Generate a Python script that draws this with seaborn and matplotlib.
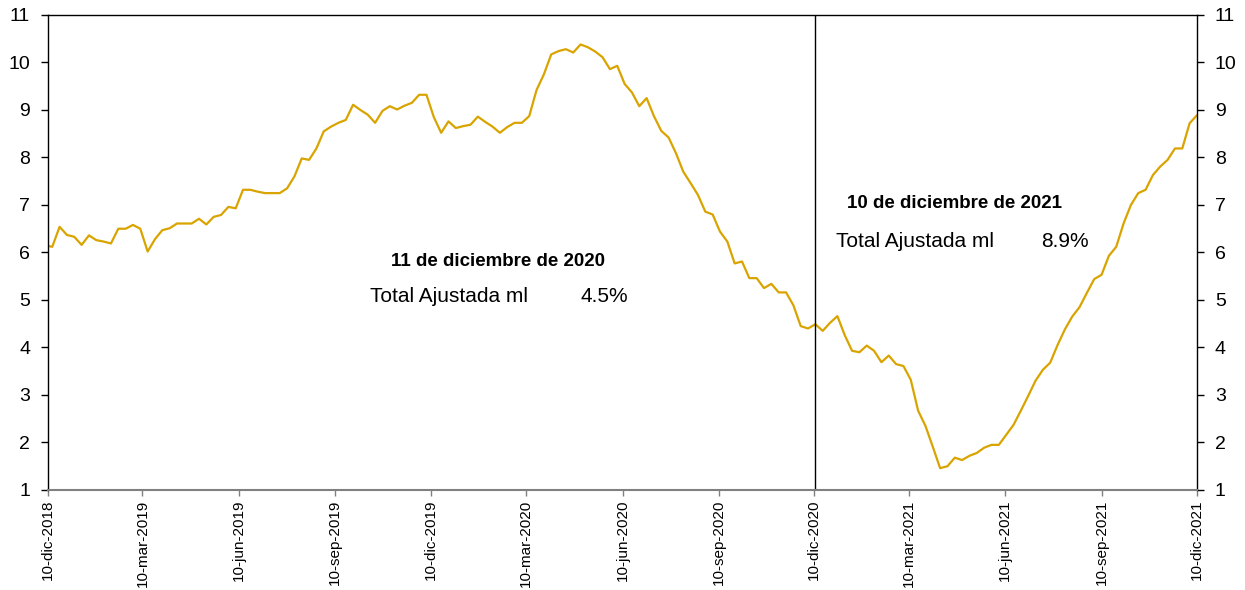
import matplotlib
matplotlib.use("Agg")
import matplotlib.pyplot as plt
import pandas as pd
import seaborn as sns

# weekly values (Fridays), first one falls just before the axis start
start_date = "2018-12-07"
values = [6.15,
          6.12, 6.54, 6.37, 6.33, 6.16, 6.36, 6.26, 6.23, 6.19, 6.50,
          6.50, 6.58, 6.50, 6.02, 6.28, 6.47, 6.51, 6.61, 6.61, 6.61,
          6.71, 6.59, 6.75, 6.79, 6.96, 6.93, 7.32, 7.32, 7.28, 7.25,
          7.25, 7.25, 7.35, 7.60, 7.98, 7.95, 8.19, 8.55, 8.65, 8.73,
          8.79, 9.11, 9.00, 8.90, 8.73, 8.98, 9.08, 9.01, 9.09, 9.15,
          9.32, 9.32, 8.85, 8.52, 8.76, 8.62, 8.66, 8.69, 8.86, 8.75,
          8.65, 8.52, 8.64, 8.73, 8.73, 8.87, 9.42, 9.75, 10.17, 10.24,
          10.28, 10.21, 10.38, 10.32, 10.23, 10.11, 9.86, 9.93, 9.55, 9.37,
          9.08, 9.25, 8.87, 8.56, 8.42, 8.09, 7.70, 7.46, 7.21, 6.86,
          6.80, 6.44, 6.23, 5.77, 5.81, 5.46, 5.46, 5.25, 5.34, 5.16,
          5.16, 4.89, 4.45, 4.40, 4.49, 4.35, 4.52, 4.66, 4.26, 3.93,
          3.90, 4.04, 3.93, 3.69, 3.83, 3.65, 3.61, 3.32, 2.67, 2.35,
          1.91, 1.46, 1.50, 1.68, 1.63, 1.72, 1.78, 1.89, 1.95, 1.95,
          2.16, 2.37, 2.67, 2.98, 3.30, 3.53, 3.68, 4.05, 4.38, 4.65,
          4.85, 5.15, 5.44, 5.53, 5.93, 6.12, 6.61, 7.00, 7.25, 7.32,
          7.63, 7.81, 7.95, 8.19, 8.19, 8.72, 8.89]

dates = pd.date_range(start_date, periods=len(values), freq="7D")
df = pd.DataFrame({"fecha": dates, "valor": values})

tick_dates = pd.to_datetime(["2018-12-10", "2019-03-10", "2019-06-10", "2019-09-10",
                             "2019-12-10", "2020-03-10", "2020-06-10", "2020-09-10",
                             "2020-12-10", "2021-03-10", "2021-06-10", "2021-09-10",
                             "2021-12-10"])
tick_labels = ["10-dic-2018", "10-mar-2019", "10-jun-2019", "10-sep-2019",
               "10-dic-2019", "10-mar-2020", "10-jun-2020", "10-sep-2020",
               "10-dic-2020", "10-mar-2021", "10-jun-2021", "10-sep-2021",
               "10-dic-2021"]
marker_date = pd.Timestamp("2020-12-11")

sns.set_style("white")
plt.rcParams["font.family"] = ["Liberation Sans", "DejaVu Sans"]
plt.rcParams["text.color"] = "black"
plt.rcParams["xtick.color"] = "black"
plt.rcParams["ytick.color"] = "black"

fig = plt.figure(figsize=(12.45, 5.9), dpi=100)
ax = fig.add_axes([0.0386, 0.1695, 0.9228, 0.8051])

sns.lineplot(data=df, x="fecha", y="valor", ax=ax, color="#D9A400", linewidth=1.6)
ax.axvline(marker_date, color="black", linewidth=1)

ax.set_xlim(tick_dates[0], tick_dates[-1])
ax.set_ylim(1, 11)
ax.set_yticks(range(1, 12))
ax.set_xticks(tick_dates)
ax.set_xticklabels(tick_labels, rotation=90, fontsize=11)
ax.set_xlabel("")
ax.set_ylabel("")

ax.tick_params(axis="y", left=True, right=True, labelleft=True, labelright=True,
               direction="out", length=5, width=1, color="black", labelsize=14, pad=8)
ax.tick_params(axis="x", bottom=True, direction="out", length=4, width=1,
               color="#808080", pad=3)

for side in ["left", "right", "top"]:
    ax.spines[side].set_color("black")
    ax.spines[side].set_linewidth(1)
ax.spines["bottom"].set_color("#808080")
ax.spines["bottom"].set_linewidth(1.5)

# annotations
ax.text(pd.Timestamp("2020-02-12"), 5.80, "11 de diciembre de 2020", ha="center",
        va="center", fontsize=13.5, fontweight="bold")
ax.text(pd.Timestamp("2019-10-13"), 5.08, "Total Ajustada ml", ha="left",
        va="center", fontsize=15)
ax.text(pd.Timestamp("2020-06-15"), 5.08, "4.5%", ha="right", va="center", fontsize=15)

ax.text(pd.Timestamp("2021-04-23"), 7.04, "10 de diciembre de 2021", ha="center",
        va="center", fontsize=13.5, fontweight="bold")
ax.text(pd.Timestamp("2020-12-31"), 6.24, "Total Ajustada ml", ha="left",
        va="center", fontsize=15)
ax.text(pd.Timestamp("2021-08-29"), 6.24, "8.9%", ha="right", va="center", fontsize=15)

fig.savefig("out.png", dpi=100)
